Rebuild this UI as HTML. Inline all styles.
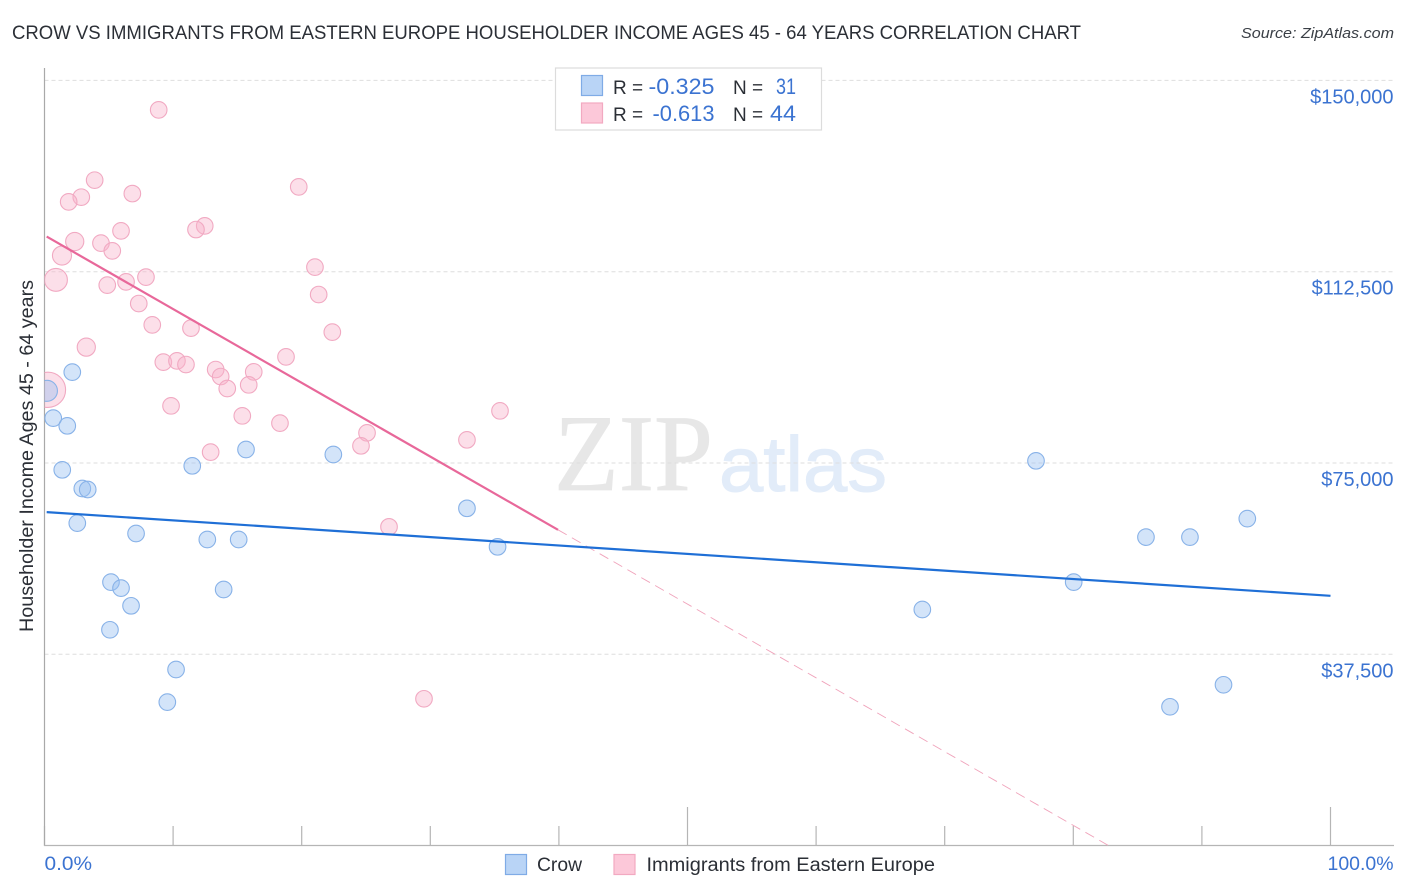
<!DOCTYPE html>
<html lang="en">
<head>
<meta charset="utf-8">
<title>Crow vs Immigrants from Eastern Europe Householder Income Correlation Chart</title>
<style>
html,body{margin:0;padding:0;background:#fff;width:1406px;height:892px;overflow:hidden}
svg{display:block;font-family:"Liberation Sans",sans-serif}
</style>
</head>
<body>
<svg id="chart" xmlns="http://www.w3.org/2000/svg" width="1406" height="892" viewBox="0 0 1406 892">
  <defs><clipPath id="plot-clip"><rect x="44.5" y="60" width="1350" height="786"/></clipPath></defs>
  <text x="12" y="39" font-size="19" fill="#2b2f36" textLength="1069" lengthAdjust="spacingAndGlyphs">CROW VS IMMIGRANTS FROM EASTERN EUROPE HOUSEHOLDER INCOME AGES 45 - 64 YEARS CORRELATION CHART</text>
  <text x="1394" y="38" font-size="15" font-style="italic" fill="#3a3f46" text-anchor="end" textLength="153" lengthAdjust="spacingAndGlyphs">Source: ZipAtlas.com</text>

  <g>
    <text x="554" y="490" font-family="'Liberation Serif',serif" font-size="109" fill="#e7e7e7" stroke="#e7e7e7" stroke-width="0.8" textLength="159" lengthAdjust="spacingAndGlyphs">ZIP</text>
    <text x="719" y="491" font-size="78" fill="#e2ecf9" stroke="#e2ecf9" stroke-width="1" textLength="168" lengthAdjust="spacingAndGlyphs">atlas</text>
  </g>

  <g id="grid"></g>
  <g id="y-labels"></g>
  <g id="x-ticks"></g>

  <line x1="44.5" y1="68" x2="44.5" y2="846" stroke="#a9a9a9" stroke-width="1.2"/>
  <line x1="44" y1="845.5" x2="1394" y2="845.5" stroke="#b5b5b5" stroke-width="1.2"/>

  <g id="marks" clip-path="url(#plot-clip)"></g>

  <text transform="translate(33 632) rotate(-90)" font-size="19" fill="#2b2f36" textLength="352" lengthAdjust="spacingAndGlyphs">Householder Income Ages 45 - 64 years</text>
  <text x="44.5" y="870" font-size="19" fill="#3b73d1" textLength="47.5" lengthAdjust="spacingAndGlyphs">0.0%</text>
  <text x="1393.5" y="870" font-size="19" fill="#3b73d1" text-anchor="end" textLength="66" lengthAdjust="spacingAndGlyphs">100.0%</text>

  <g>
    <rect x="555.5" y="68" width="266" height="62" fill="#fff" stroke="#dcdcdc" stroke-width="1.2"/>
    <rect x="581.5" y="75.5" width="21" height="20" fill="#b9d4f6" stroke="#7fabe6" stroke-width="1.2"/>
    <rect x="581.5" y="103" width="21" height="20" fill="#fcc8d9" stroke="#f2a9c1" stroke-width="1.2"/>
    <text x="613" y="94" font-size="19" fill="#2b2f36">R =</text>
    <text x="714.5" y="94" font-size="22" fill="#3b73d1" text-anchor="end" textLength="66" lengthAdjust="spacingAndGlyphs">-0.325</text>
    <text x="733" y="94" font-size="19" fill="#2b2f36">N =</text>
    <text x="796" y="94" font-size="22" fill="#3b73d1" text-anchor="end" textLength="20" lengthAdjust="spacingAndGlyphs">31</text>
    <text x="613" y="121" font-size="19" fill="#2b2f36">R =</text>
    <text x="714.5" y="121" font-size="22" fill="#3b73d1" text-anchor="end" textLength="62" lengthAdjust="spacingAndGlyphs">-0.613</text>
    <text x="733" y="121" font-size="19" fill="#2b2f36">N =</text>
    <text x="796" y="121" font-size="22" fill="#3b73d1" text-anchor="end" textLength="26" lengthAdjust="spacingAndGlyphs">44</text>
  </g>

  <g>
    <rect x="505.5" y="854.5" width="21" height="20" fill="#b9d4f6" stroke="#7fabe6" stroke-width="1.2"/>
    <text x="537" y="871" font-size="19" fill="#2b2f36" textLength="45" lengthAdjust="spacingAndGlyphs">Crow</text>
    <rect x="614" y="854.5" width="21" height="20" fill="#fcc8d9" stroke="#f2a9c1" stroke-width="1.2"/>
    <text x="646.5" y="871" font-size="19" fill="#2b2f36" textLength="288.5" lengthAdjust="spacingAndGlyphs">Immigrants from Eastern Europe</text>
  </g>
</svg>
<script>
var yTickValues = [37500, 75000, 112500, 150000];
var yTickLabels = ["$37,500", "$75,000", "$112,500", "$150,000"];
var xTickValues = [0, 10, 20, 30, 40, 50, 60, 70, 80, 90, 100];
var xMajorTicks = [50, 100];

var crowShare = [2.16, 0.19, 0.68, 1.77, 15.67, 22.46, 1.38, 11.49, 2.94, 3.36, 2.55, 7.12, 12.66, 15.10, 5.17, 5.95, 6.73, 13.93, 5.09, 10.23, 9.55, 32.85, 35.23, 68.26, 77.10, 80.03, 85.65, 89.07, 93.53, 87.52, 91.68];
var crowIncome = [92811, 89146, 83795, 82286, 77641, 76661, 73662, 74446, 69997, 69801, 63215, 61177, 60001, 60001, 51651, 50475, 47006, 50201, 42302, 34521, 28131, 66116, 58570, 46280, 75426, 51650, 60470, 60470, 64100, 27210, 31522];
var crowWeight = [1, 1.6, 1, 1, 1, 1, 1, 1, 1, 1, 1, 1, 1, 1, 1, 1, 1, 1, 1, 1, 1, 1, 1, 1, 1, 1, 1, 1, 1, 1, 1];

var immigrantShare = [8.88, 3.90, 2.86, 1.88, 6.83, 19.77, 12.46, 11.78, 5.95, 2.35, 4.39, 5.27, 1.36, 21.03, 0.89, 7.89, 6.34, 4.88, 21.32, 7.33, 8.38, 11.39, 22.38, 3.25, 18.78, 9.24, 10.30, 11.00, 13.31, 13.70, 16.27, 14.21, 15.88, 0.27, 9.84, 15.38, 18.31, 12.92, 35.42, 32.85, 25.08, 24.61, 26.79, 29.51];
var immigrantIncome = [144222, 130443, 127111, 126190, 127817, 129130, 121486, 120761, 120506, 118409, 118095, 116586, 115665, 113391, 110902, 111431, 110510, 109863, 108021, 106257, 102082, 101435, 100651, 97711, 95810, 94771, 95026, 94301, 93321, 91949, 92870, 89597, 90322, 89342, 86206, 84246, 82815, 77131, 85226, 79542, 80914, 78366, 62490, 28778];
var immigrantWeight = [1, 1, 1, 1, 1, 1, 1, 1, 1, 1.2, 1, 1, 1.32, 1, 1.9, 1, 1, 1, 1, 1, 1, 1, 1, 1.2, 1, 1, 1, 1, 1, 1, 1, 1, 1, 4.5, 1, 1, 1, 1, 1, 1, 1, 1, 1, 1];

var crowTrendShare = [0.17, 100];
var crowTrendIncome = [65371, 48966];
var immigrantTrendShare = [0.17, 39.93];
var immigrantTrendIncome = [119389, 61902];
var immigrantForecastShare = [39.93, 82.7];
var immigrantForecastIncome = [61902, 64];

var svgNS = 'http://www.w3.org/2000/svg';
function xScale(share) { return 44.5 + share * 12.86; }
function yScale(income) { return 845.6 - income * 765.2 / 150000; }
function radius(weight) { return 8.3 * Math.sqrt(weight); }
function make(tag, parent, attrs) {
  var el = document.createElementNS(svgNS, tag);
  for (var k in attrs) el.setAttribute(k, attrs[k]);
  parent.appendChild(el);
  return el;
}

var gridGroup = document.getElementById('grid');
var labelGroup = document.getElementById('y-labels');
yTickValues.forEach(function (v, i) {
  var line = make('line', gridGroup, {x1: 44.5, x2: 1394, y1: yScale(v), y2: yScale(v), stroke: '#dedede', 'stroke-width': 1, 'stroke-dasharray': '4 3'});
  
  
  var label = make('text', labelGroup, {x: 1393.5, y: yScale(v) + 23, 'text-anchor': 'end', 'font-size': 20, fill: '#3b73d1'});
  label.textContent = yTickLabels[i];
  
  
});

var tickGroup = document.getElementById('x-ticks');
xTickValues.forEach(function (t) {
  var major = xMajorTicks.indexOf(t) >= 0;
  var tick = make('line', tickGroup, {x1: xScale(t), x2: xScale(t), y1: major ? 807 : 826, y2: 845.5, stroke: '#b5b5b5', 'stroke-width': 1.2});
  
  
});

var marks = document.getElementById('marks');

function drawPoints(shares, incomes, weights, fill, stroke, name) {
  shares.forEach(function (s, i) {
    var c = make('circle', marks, {cx: xScale(s), cy: yScale(incomes[i]), r: radius(weights[i]), fill: fill, stroke: stroke, 'stroke-width': 1.1});
    
    
  });
}
function drawLine(shares, incomes, color, width, dash, name) {
  var attrs = {x1: xScale(shares[0]), y1: yScale(incomes[0]), x2: xScale(shares[1]), y2: yScale(incomes[1]), stroke: color, 'stroke-width': width};
  if (dash) attrs['stroke-dasharray'] = dash;
  var l = make('line', marks, attrs);
  
  
}

drawPoints(immigrantShare, immigrantIncome, immigrantWeight, 'rgba(248,178,202,0.42)', '#f1a9c2', 'immigrants-point');
drawPoints(crowShare, crowIncome, crowWeight, 'rgba(150,190,240,0.42)', '#88b2e8', 'crow-point');
drawLine(immigrantForecastShare, immigrantForecastIncome, '#f0a3bb', 0.9, '10 6', 'immigrants-trend-forecast');
drawLine(crowTrendShare, crowTrendIncome, '#1f6fd6', 2.2, null, 'crow-trend-line');
drawLine(immigrantTrendShare, immigrantTrendIncome, '#e8689a', 2.2, null, 'immigrants-trend-line');
</script>
</body>
</html>
